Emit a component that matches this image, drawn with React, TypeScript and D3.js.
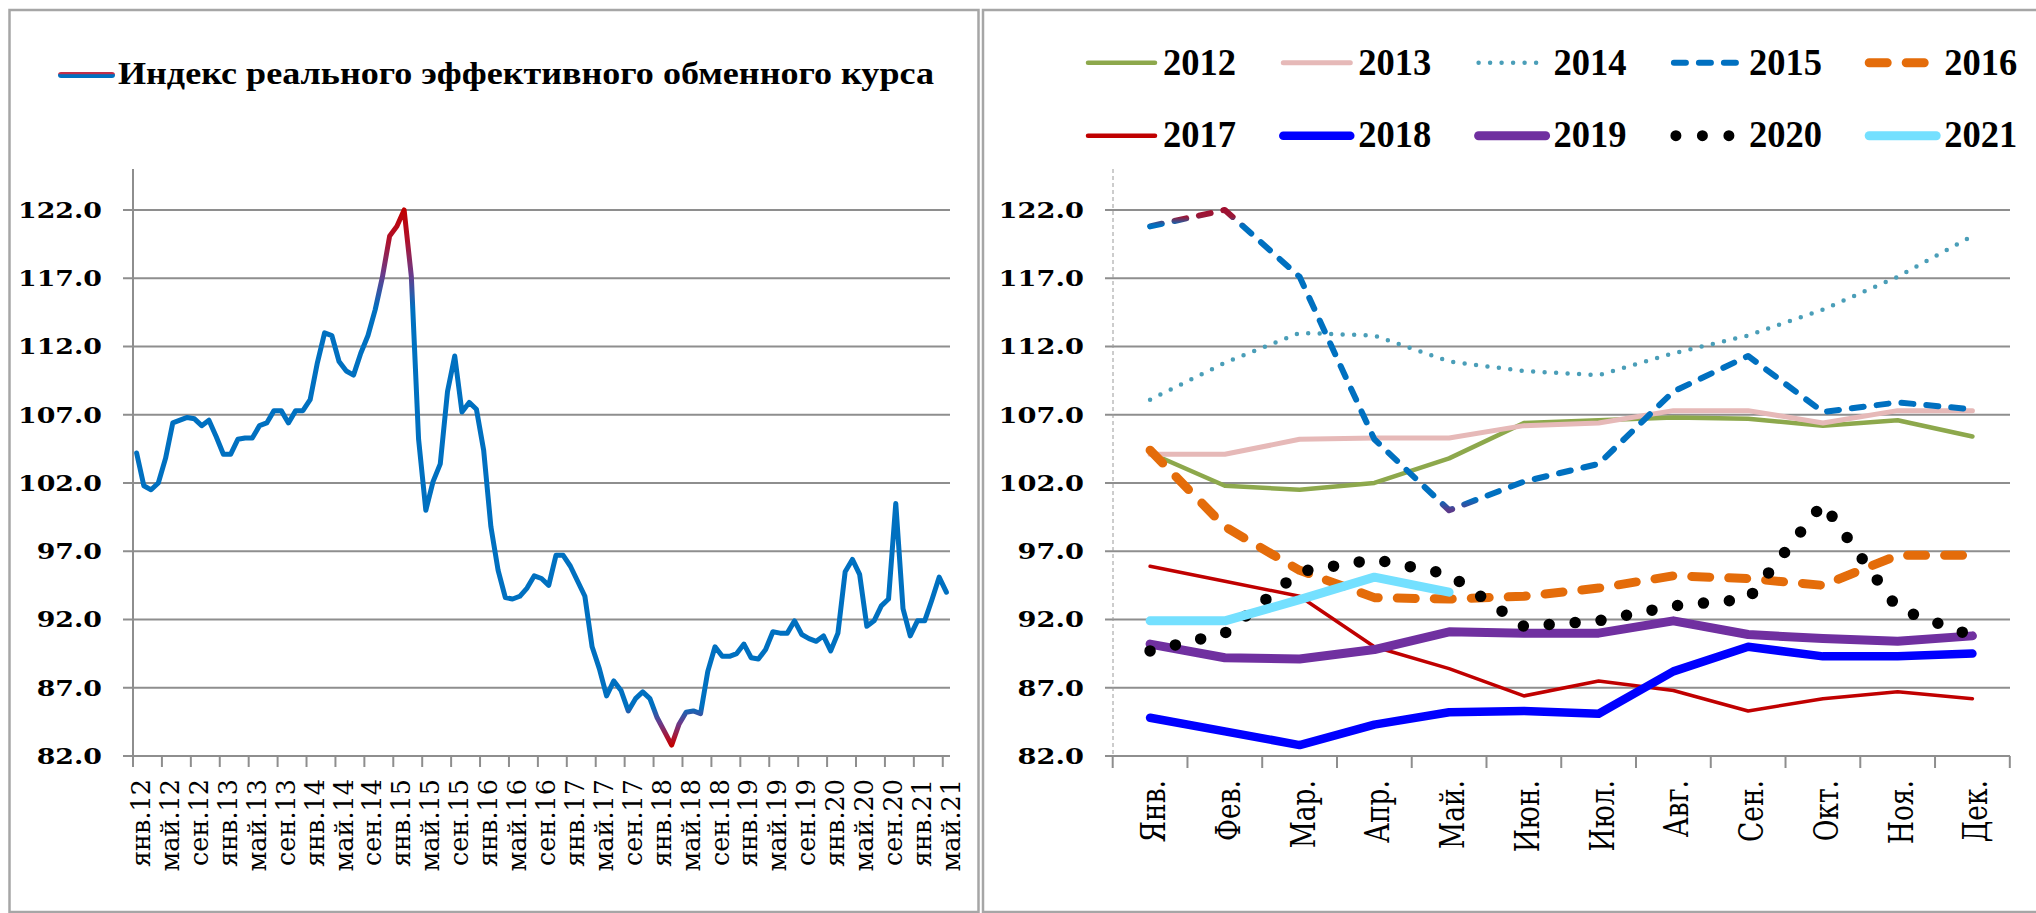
import React from 'react';
import * as d3 from 'd3';

// monthly real effective exchange rate index, one array per year
const y2012 = [104.2, 101.8, 101.5, 102.0, 103.8, 106.4, 106.6, 106.8, 106.7, 106.2, 106.6, 105.4];
const y2013 = [104.1, 104.1, 105.2, 105.3, 105.3, 106.2, 106.4, 107.3, 107.3, 106.4, 107.3, 107.3];
const y2014 = [108.1, 110.8, 113.0, 112.8, 110.9, 110.2, 109.9, 111.5, 112.8, 114.7, 117.1, 120.1];
const y2015 = [120.8, 122.0, 117.1, 105.2, 100.0, 102.1, 103.4, 108.7, 111.3, 107.2, 107.9, 107.4];
const y2016 = [104.4, 98.8, 95.6, 93.6, 93.5, 93.7, 94.3, 95.2, 95.0, 94.5, 96.7, 96.7];
const y2017 = [95.9, 94.8, 93.7, 90.0, 88.4, 86.4, 87.5, 86.8, 85.3, 86.2, 86.7, 86.2];
const y2018 = [84.8, 83.8, 82.8, 84.3, 85.2, 85.3, 85.1, 88.2, 90.0, 89.3, 89.3, 89.5];
const y2019 = [90.2, 89.2, 89.1, 89.8, 91.1, 91.0, 91.0, 91.9, 90.9, 90.6, 90.4, 90.8];
const y2020 = [89.7, 91.0, 95.5, 96.4, 95.3, 91.5, 91.9, 93.0, 93.5, 100.5, 92.8, 90.8];
const y2021 = [91.9, 91.9, 93.45, 95.1, 94.0];

const yearNames = ['2012', '2013', '2014', '2015', '2016', '2017', '2018', '2019', '2020', '2021'];
const monthShort = ['янв', 'фев', 'мар', 'апр', 'май', 'июн', 'июл', 'авг', 'сен', 'окт', 'ноя', 'дек'];
const monthLabels = ['Янв.', 'Фев.', 'Мар.', 'Апр.', 'Май.', 'Июн.', 'Июл.', 'Авг.', 'Сен.', 'Окт.', 'Ноя.', 'Дек.'];
const yTicks = [82, 87, 92, 97, 102, 107, 112, 117, 122];

const legendTitle = 'Индекс реального эффективного обменного курса';

export default function App() {
  const width = 2036;
  const height = 913;
  const grid = '#8E8E8E';
  const serifNum = '"DejaVu Serif", serif';
  const serifTxt = '"Liberation Serif", "DejaVu Serif", serif';

  // line look for each year (right chart)
  const styles: Record<string, { color: string; width: number; dash?: string }> = {
    '2012': { color: '#8DA84C', width: 4.5 },
    '2013': { color: '#E6B9B8', width: 5 },
    '2014': { color: '#4A9EB8', width: 4.5, dash: '0 11.5' },
    '2015': { color: '#0070C0', width: 6, dash: '12 13' },
    '2016': { color: '#E46C0A', width: 9, dash: '18 19' },
    '2017': { color: '#C00000', width: 3.5 },
    '2018': { color: '#0000FF', width: 8.5 },
    '2019': { color: '#7030A0', width: 9 },
    '2020': { color: '#000000', width: 11.5, dash: '0 26' },
    '2021': { color: '#74E0FF', width: 9 },
  };

  const yearValues = [y2012, y2013, y2014, y2015, y2016, y2017, y2018, y2019, y2020, y2021];
  const reer: number[] = ([] as number[]).concat(...yearValues);
  const reerLabels = reer.map((_, i) => `${monthShort[i % 12]}.${String(12 + Math.floor(i / 12))}`);

  const yScale = d3.scaleLinear().domain([82, 125]).range([756, 169]);

  // left chart
  const xL = d3.scaleBand<number>().domain(d3.range(reer.length)).range([133, 950]).padding(0);
  const bwL = xL.bandwidth();
  const lineL = d3
    .line<number>()
    .x((_, i) => (xL(i) as number) + bwL / 2)
    .y((d) => yScale(d));

  // right chart
  const xR = d3.scaleBand<number>().domain(d3.range(12)).range([1112.7, 2009.8]).padding(0);
  const bwR = xR.bandwidth();
  const lineR = d3
    .line<number>()
    .x((_, i) => (xR(i) as number) + bwR / 2)
    .y((d) => yScale(d));

  const gTop = yScale(122);
  const gBot = yScale(82.8);
  const off = (v: number) => (yScale(v) - gTop) / (gBot - gTop);

  const g15Top = yScale(122);
  const g15Bot = yScale(100);
  const off15 = (v: number) => (yScale(v) - g15Top) / (g15Bot - g15Top);

  const leftTicks = d3.range(0, reer.length, 4);

  return (
    <svg width={width} height={height} style={{ position: 'absolute', left: 0, top: 0, background: '#fff' }}>
      <defs>
        <linearGradient id="reerGrad" gradientUnits="userSpaceOnUse" x1={0} x2={0} y1={gTop} y2={gBot}>
          <stop offset={0} stopColor="#C00000" />
          <stop offset={off(119.8)} stopColor="#B0102A" />
          <stop offset={off(117.3)} stopColor="#6A3A8A" />
          <stop offset={off(114.8)} stopColor="#0070C0" />
          <stop offset={off(85.6)} stopColor="#0070C0" />
          <stop offset={off(84.4)} stopColor="#6A3A8A" />
          <stop offset={off(83.3)} stopColor="#B0102A" />
          <stop offset={1} stopColor="#C00000" />
        </linearGradient>
        <linearGradient id="g2015" gradientUnits="userSpaceOnUse" x1={0} x2={0} y1={g15Top} y2={g15Bot}>
          <stop offset={0} stopColor="#A01030" />
          <stop offset={off15(121.5)} stopColor="#9A1838" />
          <stop offset={off15(120.9)} stopColor="#0070C0" />
          <stop offset={off15(100.8)} stopColor="#0070C0" />
          <stop offset={1} stopColor="#5A3A8A" />
        </linearGradient>
        <linearGradient id="legGrad" x1={0} x2={0} y1={0} y2={1}>
          <stop offset={0} stopColor="#C0304A" />
          <stop offset={0.3} stopColor="#C0304A" />
          <stop offset={0.45} stopColor="#0070C0" />
          <stop offset={1} stopColor="#0070C0" />
        </linearGradient>
      </defs>

      {/* panel frames */}
      <rect x={9.5} y={10} width={969} height={902} fill="none" stroke="#A6A6A6" strokeWidth={2.5} />
      <rect x={983} y={10} width={1060} height={902} fill="none" stroke="#A6A6A6" strokeWidth={2.5} />

      {/* ---------- left chart ---------- */}
      <rect x={58} y={72} width={57} height={6} rx={3} fill="url(#legGrad)" />
      <text
        x={118}
        y={84}
        fontFamily={serifTxt}
        fontWeight="bold"
        fontSize={31}
        textLength={816}
        lengthAdjust="spacingAndGlyphs"
      >
        {legendTitle}
      </text>

      {yTicks.map((t) => (
        <g key={'gl' + t}>
          <line x1={123} x2={950} y1={yScale(t)} y2={yScale(t)} stroke={grid} strokeWidth={2} />
          <text
            transform={`translate(102,${yScale(t) + 8}) scale(1.22,1)`}
            textAnchor="end"
            fontFamily={serifNum}
            fontWeight="bold"
            fontSize={22}
          >
            {t.toFixed(1)}
          </text>
        </g>
      ))}
      <line x1={133} x2={133} y1={169} y2={756} stroke={grid} strokeWidth={2} />
      {leftTicks.map((i) => (
        <line
          key={'tl' + i}
          x1={xL(i) as number}
          x2={xL(i) as number}
          y1={756}
          y2={767}
          stroke={grid}
          strokeWidth={2}
        />
      ))}
      {leftTicks.map((i) => (
        <text
          key={'xl' + i}
          transform={`translate(${(xL(i) as number) + bwL / 2 + 13.5},779) rotate(-90)`}
          textAnchor="end"
          fontFamily={serifNum}
          fontSize={25.5}
        >
          {reerLabels[i]}
        </text>
      ))}
      <path
        d={lineL(reer) || ''}
        fill="none"
        stroke="url(#reerGrad)"
        strokeWidth={5}
        strokeLinejoin="round"
        strokeLinecap="round"
      />

      {/* ---------- right chart ---------- */}
      {yearNames.map((name, k) => {
        const s = styles[name];
        const col = k % 5;
        const row = Math.floor(k / 5);
        const x0 = 1085 + 195.3 * col;
        const ly = row === 0 ? 62.7 : 135.7;
        const isDots = name === '2020';
        return (
          <g key={'lg' + name}>
            <line
              x1={x0 + (isDots ? 5 : 3)}
              x2={x0 + 70}
              y1={ly}
              y2={ly}
              stroke={s.color}
              strokeWidth={isDots ? 11 : Math.max(s.width, 4.5)}
              strokeDasharray={isDots ? '0 26.5' : s.dash}
              strokeLinecap="round"
            />
            <text
              x={x0 + 78}
              y={row === 0 ? 75 : 147}
              fontFamily={serifTxt}
              fontWeight="bold"
              fontSize={38}
              textLength={73}
              lengthAdjust="spacingAndGlyphs"
            >
              {name}
            </text>
          </g>
        );
      })}

      {yTicks.map((t) => (
        <g key={'gr' + t}>
          <line x1={1105} x2={2010} y1={yScale(t)} y2={yScale(t)} stroke={grid} strokeWidth={2} />
          <text
            transform={`translate(1084,${yScale(t) + 8}) scale(1.24,1)`}
            textAnchor="end"
            fontFamily={serifNum}
            fontWeight="bold"
            fontSize={22}
          >
            {t.toFixed(1)}
          </text>
        </g>
      ))}
      <line x1={1113} x2={1113} y1={169} y2={756} stroke="#9A9A9A" strokeWidth={1} strokeDasharray="4 3" />
      {d3.range(13).map((k) => {
        const x = 1112.7 + bwR * k;
        return <line key={'tr' + k} x1={x} x2={x} y1={756} y2={768} stroke={grid} strokeWidth={2} />;
      })}
      {monthLabels.map((m, i) => (
        <text
          key={'mr' + i}
          transform={`translate(${(xR(i) as number) + bwR / 2 + 15},780) scale(1.3,1) rotate(-90)`}
          textAnchor="end"
          fontFamily={serifNum}
          fontSize={26.5}
        >
          {m}
        </text>
      ))}

      {yearNames.map((name, k) => {
        const s = styles[name];
        return (
          <path
            key={'ln' + name}
            d={lineR(yearValues[k]) || ''}
            fill="none"
            stroke={name === '2015' ? 'url(#g2015)' : s.color}
            strokeWidth={s.width}
            strokeDasharray={s.dash}
            strokeLinecap="round"
            strokeLinejoin="round"
          />
        );
      })}
    </svg>
  );
}
